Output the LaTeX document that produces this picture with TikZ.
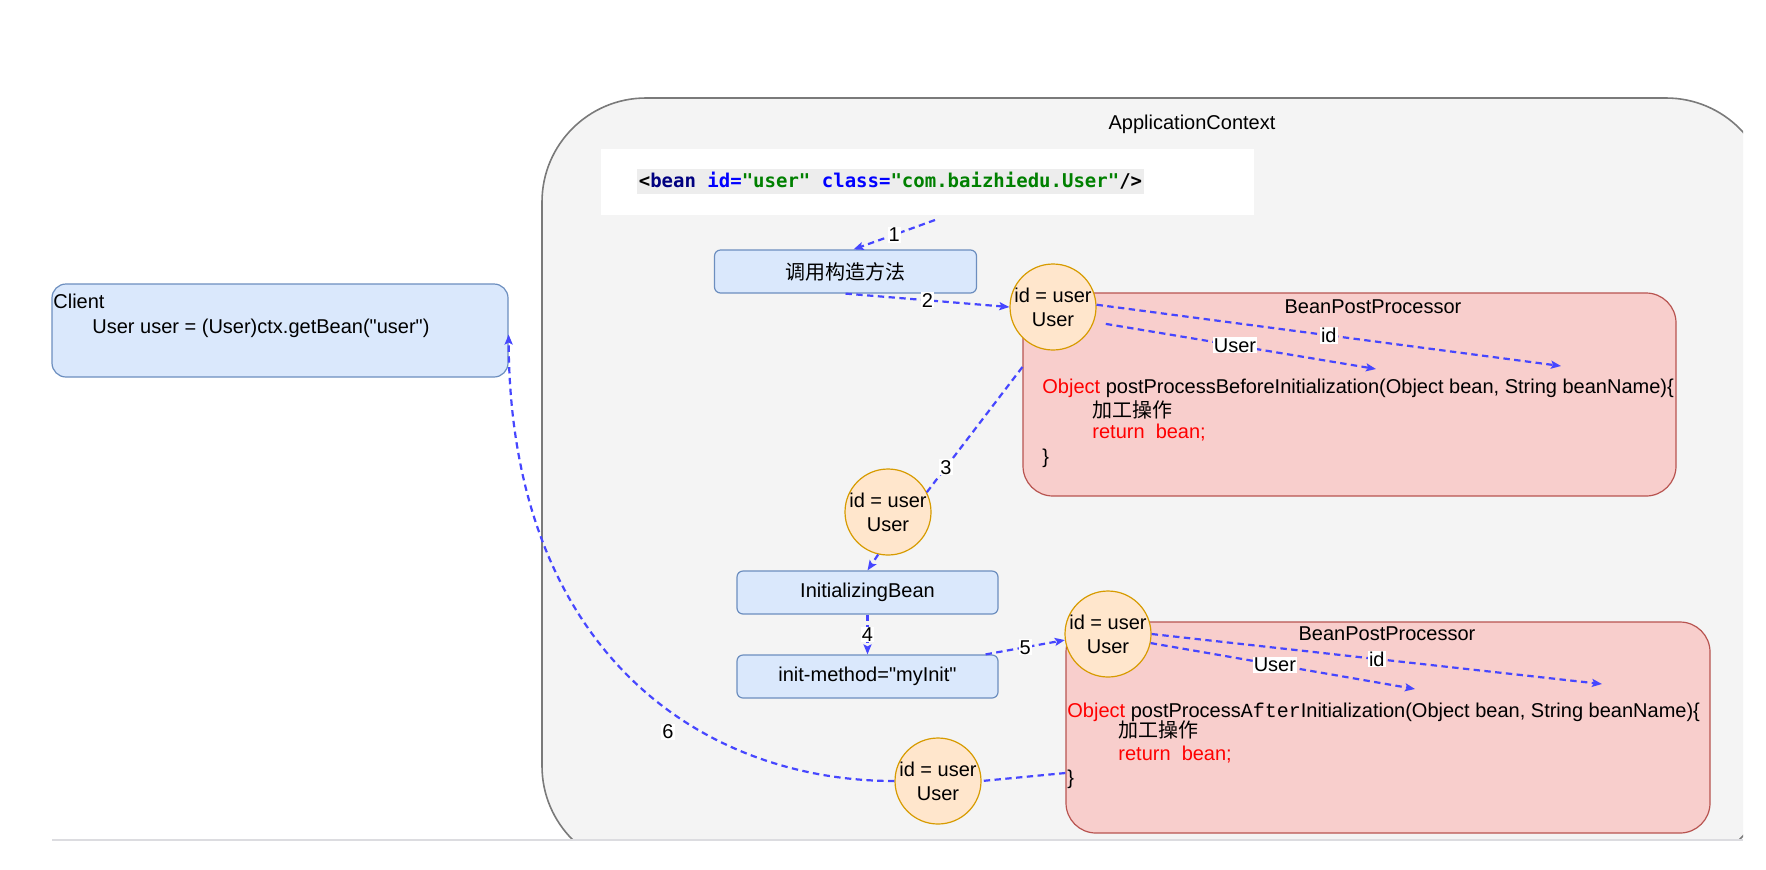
\documentclass[tikz,border=0pt]{standalone}
\usepackage{fontspec}
\setmainfont{Liberation Sans}[Ligatures=TeXOff]
\newfontfamily\cjk{Noto Sans CJK SC}
\newfontfamily\xmlmono{DejaVu Sans Mono}
\newfontfamily\aftermono{Liberation Mono}
\usetikzlibrary{arrows.meta,calc}
\definecolor{ctxfill}{HTML}{F4F4F4}
\definecolor{ctxdraw}{HTML}{7A7A7A}
\definecolor{bluefill}{HTML}{DAE8FC}
\definecolor{bluedraw}{HTML}{6C8EBF}
\definecolor{orfill}{HTML}{FFE6CC}
\definecolor{ordraw}{HTML}{D79B00}
\definecolor{redfill}{HTML}{F8CECC}
\definecolor{reddraw}{HTML}{B85450}
\definecolor{flowblue}{RGB}{70,70,255}
\definecolor{xmlnavy}{HTML}{000080}
\definecolor{xmlblue}{HTML}{0000FF}
\definecolor{xmlgreen}{HTML}{008000}
\definecolor{hlgray}{HTML}{EDEDED}
\definecolor{bottomrule}{HTML}{DCDCE0}
\begin{document}
\begin{tikzpicture}[x=0.5pt,y=-0.5pt,
  every node/.style={font=\fontsize{10pt}{12pt}\selectfont, inner sep=0pt},
  bluebox/.style={draw=bluedraw, fill=bluefill, line width=0.6pt, rounded corners=3pt, minimum width=131pt, minimum height=21.5pt},
  bean/.style={circle, draw=ordraw, fill=orfill, line width=0.6pt, minimum size=43pt, inner sep=-3pt, align=center},
  bppbox/.style={draw=reddraw, fill=redfill, line width=0.6pt, rounded corners=15pt},
  flow/.style={draw=flowblue, line width=1.1pt, dash pattern=on 3.2pt off 2.2pt, -{Stealth[length=5pt,width=4pt,inset=1pt]}},
  plainflow/.style={draw=flowblue, line width=1.1pt, dash pattern=on 3.2pt off 2.2pt},
  lbl/.style={fill=white, inner sep=0.5pt},
  code/.style={anchor=base west},
]
\fill[white] (0,0) rectangle (1766,869);
\useasboundingbox (0,0) rectangle (1766,869);
\begin{scope}
  \clip (0,0) rectangle (1743,840);
  \draw[ctxdraw, fill=ctxfill, line width=0.8pt, rounded corners=52pt] (542,98) rectangle (1770,870);
\end{scope}
\draw[bottomrule, line width=0.8pt] (52,840) -- (1743,840);

\node (ctxlabel) at (1192,124) {ApplicationContext};
\node[fill=white, minimum width=326.5pt, minimum height=33pt] (xmlbox) at (927.5,182) {};
\node[fill=hlgray, minimum width=253.5pt, minimum height=12.5pt, font=\xmlmono\fontsize{9.5pt}{11pt}\selectfont\bfseries] (xml) at (890.5,181)
  {<\textcolor{xmlnavy}{bean} \textcolor{xmlblue}{id=}\textcolor{xmlgreen}{"user"} \textcolor{xmlblue}{class=}\textcolor{xmlgreen}{"com.baizhiedu.User"}/>};

% client
\node[draw=bluedraw, fill=bluefill, line width=0.6pt, rounded corners=7pt, minimum width=228pt, minimum height=46.5pt] (client) at (280,330.5) {};
\node[anchor=base west] (clientt) at (53,308) {Client};
\node[anchor=base west] (clientc) at (92,333) {User user = (User)ctx.getBean("user")};

% process boxes
\node[bluebox] (ctor) at (845.5,271.5) {\cjk 调用构造方法};
\node[bluebox, minimum width=130.5pt] (ib) at (867.5,592.5) {InitializingBean};
\node[bluebox, minimum width=130.5pt] (init) at (867.5,676.5) {init-method="myInit"};

% BeanPostProcessor 1
\node[bppbox, minimum width=326.5pt, minimum height=101.5pt] (bpp1) at (1349.5,394.5) {};
\node (bpp1t) at (1373,307) {BeanPostProcessor};
\node[code] (b1l1) at (1042,393) {\textcolor{red}{Object} postProcessBeforeInitialization(Object bean, String beanName)\{};
\node[code] (b1l2) at (1092,417) {\cjk 加工操作};
\node[code] (b1l3) at (1092,438) {\textcolor{red}{return\ \ bean;}};
\node[code] (b1l4) at (1042,463) {\}};

% BeanPostProcessor 2
\node[bppbox, minimum width=322pt, minimum height=105.5pt] (bpp2) at (1388,727.5) {};
\node (bpp2t) at (1387,634) {BeanPostProcessor};
\node[code] (b2l1) at (1067,717) {\textcolor{red}{Object} postProcess{\aftermono After}Initialization(Object bean, String beanName)\{};
\node[code] (b2l2) at (1118,737) {\cjk 加工操作};
\node[code] (b2l3) at (1118,760) {\textcolor{red}{return\ \ bean;}};
\node[code] (b2l4) at (1067,784) {\}};

% beans
\node[bean] (c1) at (1053,307) {id = user\\User};
\node[bean] (c2) at (888,512) {id = user\\User};
\node[bean] (c3) at (1108,634) {id = user\\User};
\node[bean] (c4) at (938,781) {id = user\\User};

% connectors
\coordinate (a1s) at (935,220);
\draw[flow] (a1s) -- ([xshift=4pt]ctor.north) node[lbl, midway] (n1) {1};
\draw[flow] (ctor.south) -- (c1.west) node[lbl, midway] (n2) {2};
\draw[plainflow] ([yshift=13.75pt]bpp1.west) -- (c2.27) node[lbl, pos=0.8] (n3) {3};
\draw[flow] (c2.-103) -- (ib.north);
\draw[flow] (ib.south) -- (init.north) node[lbl, midway] (n4) {4};
\draw[flow] ([xshift=-6.5pt]init.north east) -- (c3.188) node[lbl, midway] (n5) {5};

\coordinate (id1e) at (1561,366);
\coordinate (us1e) at (1376,369);
\draw[flow] (c1.3) -- (id1e) node[lbl, midway] (l1id) {id};
\draw[flow, shorten <=6pt] (c1.-20) -- (us1e) node[lbl, midway] (l1us) {User};

\coordinate (id3e) at (1602,684);
\coordinate (us3e) at (1415,689);
\draw[flow] (c3.0) -- (id3e) node[lbl, midway] (l3id) {id};
\draw[flow] (c3.-12) -- (us3e) node[lbl, pos=0.47] (l3us) {User};

\draw[plainflow] ([yshift=-22.75pt]bpp2.west) -- (c4.east);
\draw[flow] (c4.west) .. controls (700,781) and (510,650) .. ([yshift=-2pt]client.east);
\node[lbl] (n6) at (668,732) {6};
\end{tikzpicture}
\end{document}
